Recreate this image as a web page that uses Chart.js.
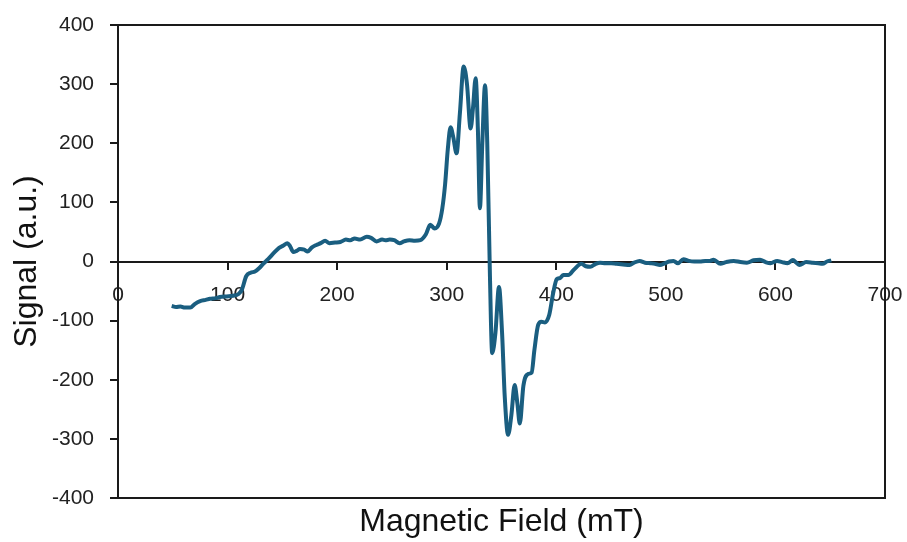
<!DOCTYPE html>
<html>
<head>
<meta charset="utf-8">
<script src="https://cdn.jsdelivr.net/npm/chart.js@4/dist/chart.umd.min.js"></script>
<style>
  html, body { margin: 0; padding: 0; background: #fff; }
  #wrap { width: 907px; height: 542px; }
</style>
</head>
<body>
<div id="wrap"><canvas id="epr"></canvas></div>
<script>
// field sweep (mT) and the recorded derivative signal (a.u.)
const fieldMT = [
  49, 53, 57, 61, 66, 70, 75, 80, 84, 89, 93, 99, 105, 110, 113, 117, 121, 125, 129, 133,
  137, 142, 147, 151, 154.5, 157, 160, 163, 166, 170, 173, 177, 181, 185, 189, 193, 198, 203, 208, 212,
  216, 221, 227, 231, 236, 241, 244, 248, 252, 257, 261, 266, 271, 276, 281, 285, 289, 293, 296, 298.5,
  301, 303.5, 306, 309, 312, 315.5, 318.5, 321.8, 324, 326.4, 328.5, 330.3, 332.5, 335, 337, 339.4, 341.5, 344.5, 347.7, 350.5,
  353, 356, 359, 362, 364.5, 366.7, 370, 374.5, 377.5, 380, 383.5, 386.5, 389.7, 393.6, 397, 400.4, 403.4, 406.5, 411, 416,
  423, 427, 431, 436, 440, 445, 450, 455, 461, 467, 471, 476, 481, 486, 490, 494.6, 499, 503, 507, 511,
  516, 521, 526, 531, 536, 540, 543.6, 549.7, 555, 562, 568, 574, 580, 586, 591, 595.5, 601.6, 606, 611, 616,
  619, 622, 628, 634, 639, 643, 647, 651
];
const signalAU = [
  -75, -77, -76, -78, -78, -72, -67, -65, -63, -62, -60, -59, -58, -55, -48, -25, -19, -17, -11, -3,
  4, 14, 23, 27, 31, 26, 16, 18, 21, 20, 17, 24, 28, 31, 35, 31, 32, 33, 37, 36,
  39, 37, 42, 40, 34, 37, 36, 37, 36, 31, 34, 36, 35, 36, 46, 62, 56, 64, 90, 130,
  190, 227, 210, 183, 250, 330, 300, 225, 260, 310, 220, 90, 200, 298, 200, -20, -155, -120, -43, -120,
  -230, -293, -260, -209, -240, -274, -210, -190, -188, -150, -107, -102, -103, -90, -55, -30, -28, -23, -23, -14,
  -4, -8, -9, -4, -2, -3, -3, -4, -5, -6, -2, 1, -2, -3, -4, -6, -3, 0, 1, -3,
  4, 1, 0, 0, 1, 1, 3, -4, -1, 1, -1, -2, 2, 3, -1, -3, 1, -1, -3, 2.5,
  -2, -6, -1, -2, -3, -4, 0, 2
];
const xTicks = [0, 100, 200, 300, 400, 500, 600, 700];
const yTicks = [-400, -300, -200, -100, 0, 100, 200, 300, 400];

const points = fieldMT.map((f, i) => ({ x: f, y: signalAU[i] }));

// outline around the plotting area
const frame = {
  id: 'frame',
  afterDraw(chart) {
    const a = chart.chartArea, c = chart.ctx;
    c.save();
    c.strokeStyle = '#1a1a1a';
    c.lineWidth = 2;
    c.strokeRect(a.left, a.top, a.right - a.left, a.bottom - a.top);
    c.restore();
  }
};

// let the end labels hang past the frame instead of shrinking the plot
const noSidePad = s => { s.paddingLeft = 0; s.paddingRight = 0; };

const tickFont = { family: 'Liberation Sans, Arial, sans-serif', size: 21 };
const titleFont = { family: 'Liberation Sans, Arial, sans-serif', size: 32 };

new Chart(document.getElementById('epr'), {
  type: 'line',
  data: {
    datasets: [{
      data: points,
      xAxisID: 'x',
      borderColor: '#1a5e80',
      borderWidth: 4,
      pointRadius: 0,
      cubicInterpolationMode: 'monotone',
      fill: false
    }]
  },
  options: {
    responsive: true,
    maintainAspectRatio: false,
    animation: false,
    layout: { padding: { top: 25, right: 22, left: 4, bottom: 0 } },
    plugins: { legend: { display: false }, tooltip: { enabled: false } },
    scales: {
      x: {
        type: 'linear',
        position: { y: 0 },
        min: 0, max: 700,
        afterBuildTicks: s => { s.ticks = xTicks.map(v => ({ value: v })); },
        afterFit: noSidePad,
        ticks: { color: '#222', font: tickFont, padding: 14, autoSkip: false, maxRotation: 0 },
        grid: { drawOnChartArea: false, drawTicks: true, tickLength: 7, color: '#1a1a1a', lineWidth: 2 },
        border: { display: true, color: '#1a1a1a', width: 2 }
      },
      xTitle: {
        type: 'linear',
        position: 'bottom',
        min: 0, max: 700,
        afterFit: s => { noSidePad(s); s.height = 44; },
        ticks: { display: false },
        grid: { display: false },
        border: { display: false },
        title: { display: true, text: 'Magnetic Field (mT)', color: '#111', font: titleFont, padding: { top: 0, bottom: 1 } }
      },
      y: {
        type: 'linear',
        position: 'left',
        min: -400, max: 400,
        afterBuildTicks: s => { s.ticks = yTicks.map(v => ({ value: v })); },
        afterFit: s => { s.width = 114; s.paddingTop = 0; s.paddingBottom = 0; },
        ticks: { color: '#222', font: tickFont, padding: 16 },
        grid: { drawOnChartArea: false, drawTicks: true, tickLength: 8, color: '#1a1a1a', lineWidth: 2 },
        border: { display: true, color: '#1a1a1a', width: 2 },
        title: { display: true, text: 'Signal (a.u.)', color: '#111', font: titleFont, padding: { top: 4, bottom: 4 } }
      }
    }
  },
  plugins: [frame]
});
</script>
</body>
</html>
